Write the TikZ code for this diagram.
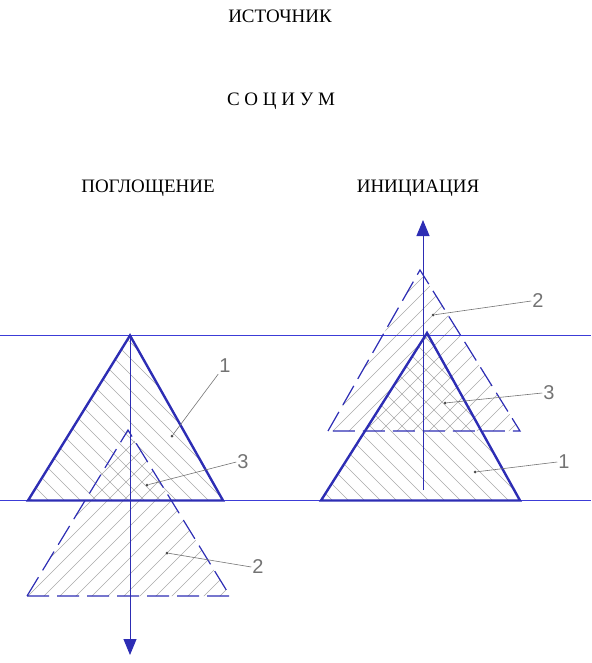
\documentclass[tikz,border=0pt]{standalone}
\usepackage{fontspec}
\setmainfont{Liberation Serif}
\newfontfamily\handfont{Liberation Sans}
\usetikzlibrary{arrows.meta}
\definecolor{ink}{RGB}{45,45,180}
\definecolor{guidec}{RGB}{60,60,215}
\definecolor{hatchc}{RGB}{170,170,170}
\tikzset{
  guide/.style={draw=guidec, line width=1.3pt},
  solidtri/.style={draw=ink, line width=2.4pt, line join=miter},
  dashtri/.style={draw=ink, line width=1.2pt, dash pattern=on 22pt off 8pt},
  hatch/.style={draw=hatchc, line width=0.55pt},
  axisline/.style={draw=ink, line width=1pt, -{Triangle[length=16pt,width=13pt]}},
  leader/.style={draw=black!55, line width=0.6pt},
  num/.style={font=\handfont\fontsize{20}{20}\selectfont, text=black!55, inner sep=1pt},
  title/.style={font=\fontsize{19}{19}\selectfont, inner sep=0pt},
  dot/.style={circle, fill=black!70, inner sep=0pt, minimum size=3pt}
}
\begin{document}
\begin{tikzpicture}[x=1pt,y=-1pt]
\useasboundingbox (0,0) rectangle (591,663);

% titles
\node[title] (src) at (280,16) {ИСТОЧНИК};
\node[title] (soc) at (281,101) {С О Ц И У М};
\node[title] (abs) at (148,188) {ПОГЛОЩЕНИЕ};
\node[title] (ini) at (418,188) {ИНИЦИАЦИЯ};

% vertices
\coordinate (L1a) at (130,335.5); \coordinate (L1b) at (28,500.5); \coordinate (L1c) at (223,500.5);
\coordinate (L2a) at (128,430); \coordinate (L2b) at (27,596); \coordinate (L2c) at (230,596);
\coordinate (R1a) at (427,333); \coordinate (R1b) at (321,500.5); \coordinate (R1c) at (520,500.5);
\coordinate (R2a) at (420,270); \coordinate (R2b) at (328,431); \coordinate (R2c) at (520,431);

% hatching
\begin{scope}
  \clip (L1a) -- (L1b) -- (L1c) -- cycle;
  \foreach \i in {-200,-184,...,260} \draw[hatch] (\i,300) -- ++(320,320);
\end{scope}
\begin{scope}
  \clip (L2a) -- (L2b) -- (L2c) -- cycle;
  \foreach \i in {0,16,...,480} \draw[hatch] (\i,400) -- ++(-320,320);
\end{scope}
\begin{scope}
  \clip (R1a) -- (R1b) -- (R1c) -- cycle;
  \foreach \i in {100,116,...,560} \draw[hatch] (\i,300) -- ++(320,320);
\end{scope}
\begin{scope}
  \clip (R2a) -- (R2b) -- (R2c) -- cycle;
  \foreach \i in {300,316,...,760} \draw[hatch] (\i,240) -- ++(-320,320);
\end{scope}

% horizontal guide lines
\coordinate (hl1) at (0,335.5); \coordinate (hr1) at (591,335.5);
\coordinate (hl2) at (0,500.5); \coordinate (hr2) at (591,500.5);
\draw[guide] (hl1) -- (hr1);
\draw[guide] (hl2) -- (hr2);

% triangles
\draw[dashtri] (L2b) -- (L2a) -- (L2c) -- cycle;
\draw[dashtri] (R2b) -- (R2a) -- (R2c) -- cycle;
\draw[solidtri] (L1a) -- (L1b) -- (L1c) -- cycle;
\draw[solidtri] (R1a) -- (R1b) -- (R1c) -- cycle;

% axes
\coordinate (Lend) at (130,655);
\coordinate (Rstart) at (423,490);
\coordinate (Rend) at (423,220);
\draw[axisline] (L1a) -- (Lend);
\draw[axisline] (Rstart) -- (Rend);

% labels left
\node[num] (l1) at (225,366) {1};
\node[num] (l3) at (243,462) {3};
\node[num] (l2) at (258,567) {2};
\node[dot] (d1) at (172,436) {};
\node[dot] (d3) at (147,485) {};
\node[dot] (d2) at (167,553) {};
\draw[leader] (l1.south west) -- (d1);
\draw[leader] (l3.west) -- (d3);
\draw[leader] (l2.west) -- (d2);

% labels right
\node[num] (r2) at (538,301) {2};
\node[num] (r3) at (549,393) {3};
\node[num] (r1) at (564,462) {1};
\node[dot] (e2) at (433,315) {};
\node[dot] (e3) at (445,403) {};
\node[dot] (e1) at (475,472) {};
\draw[leader] (r2.west) -- (e2);
\draw[leader] (r3.west) -- (e3);
\draw[leader] (r1.west) -- (e1);
\end{tikzpicture}
\end{document}
